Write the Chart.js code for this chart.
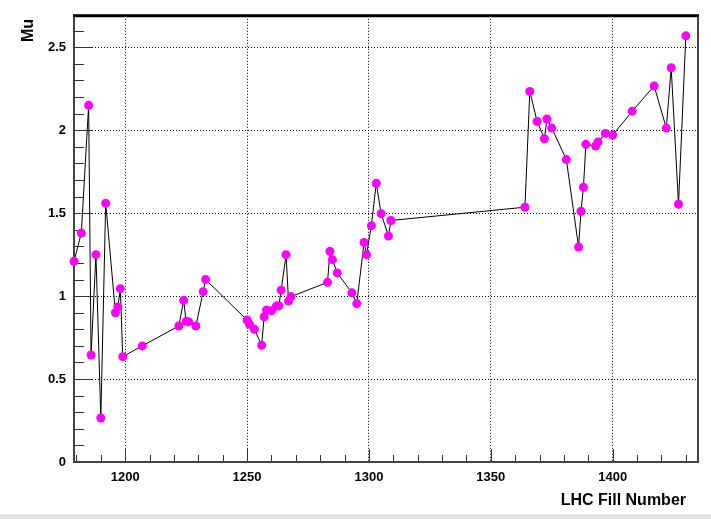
<!DOCTYPE html>
<html>
<head>
<meta charset="utf-8">
<title>Mu vs LHC Fill Number</title>
<script src="https://cdn.jsdelivr.net/npm/chart.js@4.4.1/dist/chart.umd.min.js"></script>
<style>
    html, body { margin: 0; padding: 0; background: #fff; }
    #wrap { width: 711px; height: 519px; }
</style>
</head>
<body>
<div id="wrap"><canvas id="muChart" width="711" height="519"></canvas></div>
<script>
// LHC fill numbers and the average pile-up (mu)
const fills = [1179, 1182, 1185, 1186, 1188, 1190, 1192, 1196, 1197, 1198, 1199,
    1207, 1222, 1224, 1225, 1226, 1229, 1232, 1233,
    1250, 1251, 1253, 1256, 1257, 1258, 1260, 1262, 1263, 1264, 1266, 1267, 1268,
    1283, 1284, 1285, 1287, 1293, 1295, 1298, 1299, 1301, 1303, 1305, 1308, 1309,
    1364, 1366, 1369, 1372, 1373, 1375, 1381, 1386, 1387, 1388, 1389, 1393, 1394,
    1397, 1400, 1408, 1417, 1422, 1424, 1427, 1430];
const mu = [1.21, 1.38, 2.15, 0.645, 1.25, 0.265, 1.56, 0.90, 0.935, 1.045, 0.635,
    0.70, 0.82, 0.974, 0.848, 0.846, 0.82, 1.027, 1.10,
    0.856, 0.83, 0.80, 0.704, 0.876, 0.916, 0.912, 0.94, 0.942, 1.036, 1.25, 0.97, 0.997,
    1.083, 1.27, 1.22, 1.14, 1.02, 0.955, 1.323, 1.25, 1.425, 1.68, 1.497, 1.362, 1.456,
    1.536, 2.234, 2.053, 1.949, 2.068, 2.013, 1.823, 1.296, 1.512, 1.656, 1.915, 1.905, 1.929,
    1.981, 1.971, 2.115, 2.267, 2.013, 2.377, 1.554, 2.569];

const xTickValues = [1200, 1250, 1300, 1350, 1400];
const xTickLabels = ['1200', '1250', '1300', '1350', '1400'];
const yTickValues = [0, 0.5, 1, 1.5, 2, 2.5];
const yTickLabels = ['0', '0.5', '1', '1.5', '2', '2.5'];

const xTitle = 'LHC Fill Number';
const yTitle = 'Mu';

const FONT = "'Liberation Sans', Arial, Helvetica, sans-serif";

// ROOT style frame, inner ticks and axis titles
const rootFrame = {
    id: 'rootFrame',
    beforeDraw(chart) {
        const ctx = chart.ctx;
        ctx.save();
        ctx.fillStyle = '#e4e4e4';
        ctx.fillRect(0, 514, chart.width, chart.height - 514);
        ctx.restore();
    },
    beforeDatasetsDraw(chart) {
        const { ctx, chartArea: a, scales: { x, y } } = chart;
        ctx.save();
        ctx.strokeStyle = '#333';
        ctx.lineWidth = 1;
        ctx.beginPath();
        // minor and major ticks on the y axis (inside the frame)
        for (let i = 0; i <= 27; i++) {
            const v = i / 10;
            const py = Math.round(y.getPixelForValue(v)) + 0.5;
            if (py < a.top) break;
            const len = (i % 5 === 0) ? 18 : 10;
            ctx.moveTo(a.left, py);
            ctx.lineTo(a.left + len, py);
        }
        // minor and major ticks on the x axis
        for (let v = 1180; v <= x.max; v += 10) {
            const px = Math.round(x.getPixelForValue(v)) + 0.5;
            const len = (v % 50 === 0) ? 13 : 7;
            ctx.moveTo(px, a.bottom);
            ctx.lineTo(px, a.bottom - len);
        }
        ctx.stroke();

        ctx.lineWidth = 2;
        ctx.strokeStyle = '#444';
        ctx.strokeRect(a.left, a.top, a.right - a.left, a.bottom - a.top);
        ctx.strokeStyle = '#000';
        ctx.lineWidth = 3;
        ctx.beginPath();
        ctx.moveTo(a.left - 1, a.top);
        ctx.lineTo(a.right + 1, a.top);
        ctx.stroke();
        ctx.restore();
    },
    afterDraw(chart) {
        const { ctx, chartArea: a } = chart;
        ctx.save();
        ctx.fillStyle = '#000';
        ctx.font = 'bold 16px ' + FONT;
        ctx.textAlign = 'right';
        ctx.textBaseline = 'alphabetic';
        ctx.fillText(xTitle, 686, 505);

        ctx.translate(33, 19);
        ctx.rotate(-Math.PI / 2);
        ctx.fillText(yTitle, 0, 0);
        ctx.restore();
    }
};

const points = fills.map((f, i) => ({ x: f, y: mu[i] }));

new Chart(document.getElementById('muChart'), {
    type: 'line',
    data: {
        datasets: [{
            label: yTitle,
            data: points,
            borderColor: '#000',
            borderWidth: 1,
            tension: 0,
            pointRadius: 4.5,
            pointBackgroundColor: '#ff00ff',
            pointBorderWidth: 0,
            pointHoverRadius: 4.5,
            clip: false
        }]
    },
    options: {
        responsive: false,
        animation: false,
        devicePixelRatio: 1,
        layout: { padding: { top: 13, right: 13, left: 0, bottom: 0 } },
        plugins: {
            legend: { display: false },
            tooltip: { enabled: false }
        },
        scales: {
            x: {
                type: 'linear',
                min: 1179,
                max: 1435,
                afterBuildTicks: s => { s.ticks = xTickValues.map(v => ({ value: v })); },
                afterFit: s => { s.height = 57; },
                grid: { color: '#000', lineWidth: 1, drawTicks: false },
                border: { display: false, dash: [1, 2] },
                ticks: {
                    padding: 8,
                    color: '#000',
                    font: { family: FONT, size: 13, weight: 'bold' },
                    maxRotation: 0,
                    autoSkip: false,
                    callback: (v, i) => xTickLabels[i]
                }
            },
            y: {
                type: 'linear',
                min: 0,
                max: 2.69,
                afterBuildTicks: s => { s.ticks = yTickValues.map(v => ({ value: v })); },
                afterFit: s => { s.width = 74; },
                grid: { color: '#000', lineWidth: 1, drawTicks: false },
                border: { display: false, dash: [1, 2] },
                ticks: {
                    padding: 8,
                    color: '#000',
                    font: { family: FONT, size: 13, weight: 'bold' },
                    autoSkip: false,
                    callback: (v, i) => yTickLabels[i]
                }
            }
        }
    },
    plugins: [rootFrame]
});
</script>
</body>
</html>
